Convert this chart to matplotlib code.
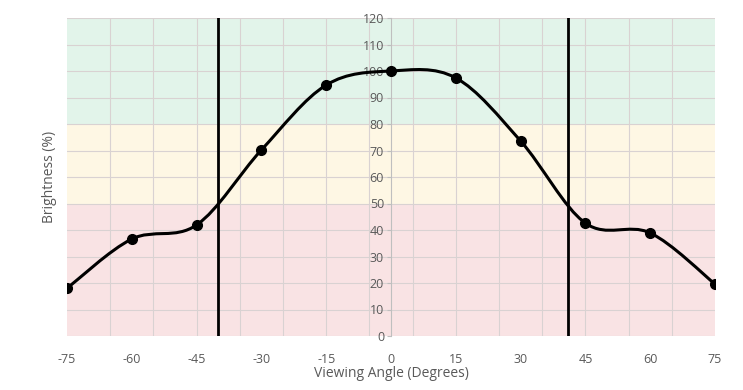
import matplotlib
matplotlib.use("Agg")
import matplotlib.pyplot as plt
import numpy as np
from matplotlib.path import Path
from matplotlib.patches import PathPatch

# Data
angles = [-75, -60, -45, -30, -15, 0, 15, 30, 45, 60, 75]
brightness = [18, 36.6, 41.9, 70.2, 94.7, 100, 97.4, 73.6, 42.6, 38.9, 19.6]
cutoff_angles = [-40, 41]
x_ticks = [-75, -60, -45, -30, -15, 0, 15, 30, 45, 60, 75]
y_ticks = list(range(0, 121, 10))

# Bands: (low, high, colour)
bands = [(0, 50, "#f9e3e4"), (50, 80, "#fef7e4"), (80, 120, "#e2f4ea")]

plt.rcParams['font.family'] = ['Open Sans', 'DejaVu Sans']
plt.rcParams['axes.unicode_minus'] = False

fig = plt.figure(figsize=(7.43, 3.9), dpi=100)
ax = fig.add_axes([67 / 743, 54 / 390, 648 / 743, 318 / 390])

for lo, hi, col in bands:
    ax.axhspan(lo, hi, color=col, zorder=0, lw=0)

# grid lines
for y in y_ticks:
    ax.axhline(y, color="#d9d2d2", lw=0.8, zorder=1)
for x in np.arange(-65, 70, 10):
    ax.axvline(x, color="#d9d2d2", lw=0.8, zorder=1)

# smoothed line (Excel-like cardinal spline via Bezier)
pts = np.column_stack([angles, brightness])
n = len(pts)
verts = [pts[0]]
codes = [Path.MOVETO]
for i in range(n - 1):
    p0 = pts[max(i - 1, 0)]
    p1 = pts[i]
    p2 = pts[i + 1]
    p3 = pts[min(i + 2, n - 1)]
    c1 = p1 + (p2 - p0) / 6
    c2 = p2 - (p3 - p1) / 6
    verts += [c1, c2, p2]
    codes += [Path.CURVE4] * 3
ax.add_patch(PathPatch(Path(verts, codes), fill=False, lw=2.2, color="black", zorder=4))
ax.plot(angles, brightness, "o", color="black", ms=7, zorder=5)

for x in cutoff_angles:
    ax.axvline(x, color="black", lw=2, zorder=3)

ax.set_xlim(-75, 75)
ax.set_ylim(0, 120)

for s in ["top", "right", "bottom"]:
    ax.spines[s].set_visible(False)
ax.spines["left"].set_position(("data", 0))
ax.spines["left"].set_color("#bfbfbf")
ax.spines["left"].set_zorder(2)

ax.set_yticks(y_ticks)
ax.set_xticks(x_ticks)
ax.tick_params(axis="y", length=3, color="#bfbfbf", labelcolor="#595959",
               labelsize=9, pad=2)
ax.tick_params(axis="x", length=0, labelcolor="#595959", labelsize=9, pad=12)

ax.set_xlabel("Viewing Angle (Degrees)", color="#595959", fontsize=10, labelpad=0)
ax.set_ylabel("Brightness (%)", color="#595959", fontsize=10)
ax.yaxis.set_label_coords(-0.016, 0.5)

fig.savefig("out.png", dpi=100)
